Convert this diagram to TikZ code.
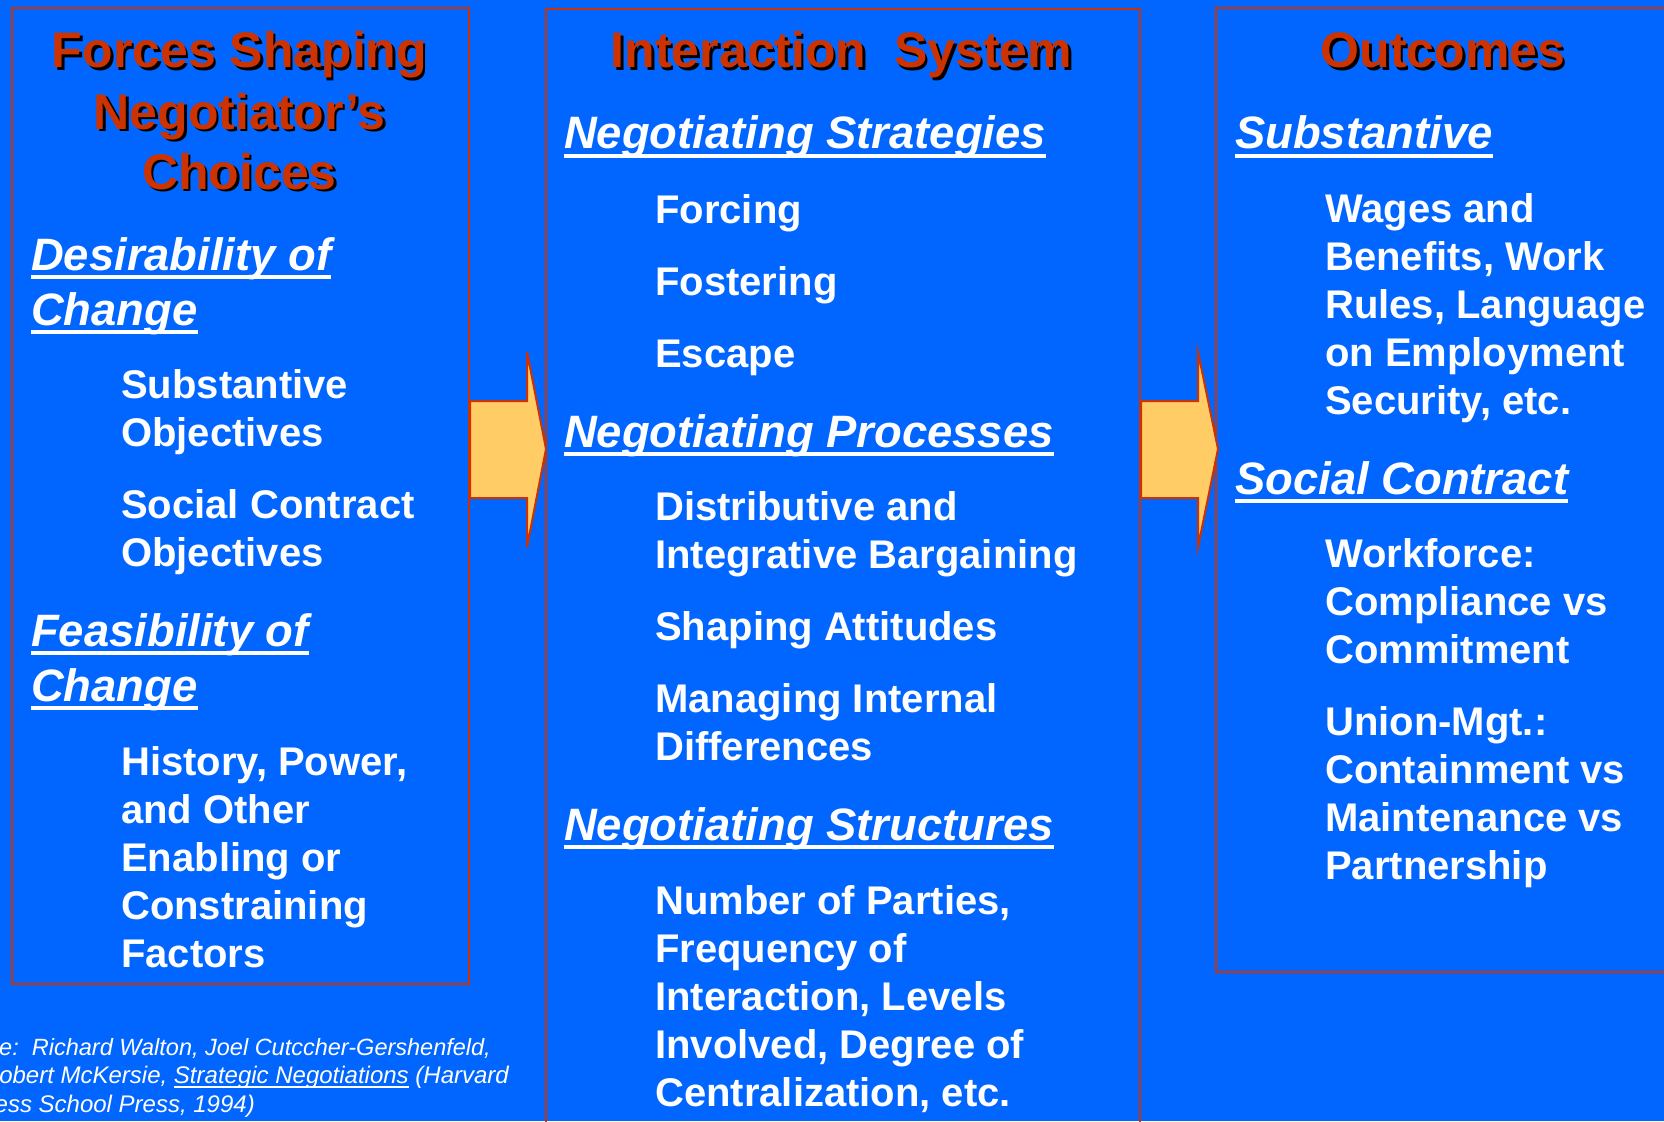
\documentclass[tikz,border=0pt]{standalone}
\usepackage{fontspec}
\setmainfont{Liberation Sans}
\usetikzlibrary{calc}

\definecolor{slideblue}{RGB}{0,102,255}
\definecolor{rust}{RGB}{204,51,0}
\definecolor{gold}{RGB}{255,204,102}

% underlined text: #1 = lowering of the rule, #2 = rule thickness
\newsavebox\ulinebox
\newcommand\ulinetext[3]{\sbox\ulinebox{#3}\rlap{\rule[-#1]{\wd\ulinebox}{#2}}\usebox\ulinebox}

\tikzset{
  panel/.style={draw=rust, line width=2pt},
  titletext/.style={font=\bfseries\fontsize{50}{60}\selectfont, text=rust, inner sep=0pt, anchor=base},
  titleshadow/.style={titletext, text=black},
  headtext/.style={font=\bfseries\itshape\fontsize{45.4}{54}\selectfont, text=white, inner sep=0pt, anchor=base west},
  bodytext/.style={font=\bfseries\fontsize{40}{48}\selectfont, text=white, inner sep=0pt, anchor=base west},
  citetext/.style={font=\itshape\fontsize{24}{29}\selectfont, text=white, inner sep=0pt, anchor=base east},
  blockarrow/.style={draw=rust, fill=gold, line width=2pt, line join=miter},
}

% title line with a dark drop shadow
\newcommand\titleline[4]{%
  \node[titleshadow] (#1-shadow) at (#2+2.5,#3+2.5) {#4};
  \node[titletext] (#1) at (#2,#3) {#4};}
% underlined italic heading
\newcommand\headline[4]{\node[headtext] (#1) at (#2,#3) {\ulinetext{8.7pt}{4pt}{#4}};}
% plain body line
\newcommand\bodyline[4]{\node[bodytext] (#1) at (#2,#3) {#4};}

\begin{document}
\begin{tikzpicture}[x=1pt, y=-1pt]
  \useasboundingbox (0,0) rectangle (1664,1121);
  \clip (0,0) rectangle (1664,1121);
  \fill[slideblue] (0,0) rectangle (1664,1121);

  % the three panels
  \node[panel, anchor=north west, minimum width=457.3pt, minimum height=976pt, inner sep=0pt] (forces) at (10.7,7) {};
  \node[panel, anchor=north west, minimum width=594.4pt, minimum height=1130pt, inner sep=0pt] (system) at (544.6,8) {};
  \node[panel, anchor=north west, minimum width=470pt, minimum height=964pt, inner sep=0pt] (outcomes) at (1215,7) {};

  % block arrows between the panels
  \coordinate (tailA) at (forces.north east |- 0,449);
  \coordinate (tailB) at (system.north east |- 0,449);
  \draw[blockarrow] (tailA) ++(0,-48) -- ++(57,0) -- ++(0,-49) -- ++(19,97)
        -- ++(-19,98) -- ++(0,-49) -- ++(-57,0) -- cycle;
  \draw[blockarrow] (tailB) ++(0,-48) -- ++(57,0) -- ++(0,-49) -- ++(20,97)
        -- ++(-20,98) -- ++(0,-49) -- ++(-57,0) -- cycle;

  % left panel
  \titleline{forcesA}{239.5}{68}{Forces Shaping}
  \titleline{forcesB}{239.5}{129}{Negotiator’s}
  \titleline{forcesC}{239.5}{189}{Choices}
  \headline{desireA}{31}{270}{Desirability of}
  \headline{desireB}{31}{325}{Change}
  \bodyline{substA}{121}{398}{Substantive}
  \bodyline{substB}{121}{446}{Objectives}
  \bodyline{socialA}{121}{518}{Social Contract}
  \bodyline{socialB}{121}{566}{Objectives}
  \headline{feasA}{31}{646}{Feasibility of}
  \headline{feasB}{31}{701}{Change}
  \bodyline{histA}{121}{775}{History, Power,}
  \bodyline{histB}{121}{823}{and Other}
  \bodyline{histC}{121}{871}{Enabling or}
  \bodyline{histD}{121}{919}{Constraining}
  \bodyline{histE}{121}{967}{Factors}

  % middle panel
  \titleline{systitle}{841.5}{68}{Interaction\ \ System}
  \headline{strat}{564}{149}{Negotiating Strategies}
  \bodyline{forcing}{655}{223}{Forcing}
  \bodyline{fostering}{655}{295}{Fostering}
  \bodyline{escape}{655}{367}{Escape}
  \headline{proc}{564}{447}{Negotiating Processes}
  \bodyline{distA}{655}{520}{Distributive and}
  \bodyline{distB}{655}{568}{Integrative Bargaining}
  \bodyline{shaping}{655}{640}{Shaping Attitudes}
  \bodyline{managA}{655}{712}{Managing Internal}
  \bodyline{managB}{655}{760}{Differences}
  \headline{struct}{564}{840}{Negotiating Structures}
  \bodyline{numA}{655}{914}{Number of Parties,}
  \bodyline{numB}{655}{962}{Frequency of}
  \bodyline{numC}{655}{1010}{Interaction, Levels}
  \bodyline{numD}{655}{1058}{Involved, Degree of}
  \bodyline{numE}{655}{1106}{Centralization, etc.}

  % right panel
  \titleline{outtitle}{1443}{68}{Outcomes}
  \headline{outsubst}{1235}{149}{Substantive}
  \bodyline{wagesA}{1325}{222}{Wages and}
  \bodyline{wagesB}{1325}{270}{Benefits, Work}
  \bodyline{wagesC}{1325}{318}{Rules, Language}
  \bodyline{wagesD}{1325}{366}{on Employment}
  \bodyline{wagesE}{1325}{414}{Security, etc.}
  \headline{outsocial}{1235}{494}{Social Contract}
  \bodyline{workA}{1325}{567}{Workforce:}
  \bodyline{workB}{1325}{615}{Compliance vs}
  \bodyline{workC}{1325}{663}{Commitment}
  \bodyline{unionA}{1325}{735}{Union-Mgt.:}
  \bodyline{unionB}{1325}{783}{Containment vs}
  \bodyline{unionC}{1325}{831}{Maintenance vs}
  \bodyline{unionD}{1325}{879}{Partnership}

  % reference note
  \node[citetext, font=\itshape\fontsize{23.5}{29}\selectfont] (citeA) at (491,1055) {e:\ \ Richard Walton, Joel Cutccher-Gershenfeld,};
  \node[citetext] (citeB) at (509,1083.5) {obert McKersie, \ulinetext{4.2pt}{1.5pt}{Strategic Negotiations} (Harvard};
  \node[citetext] (citeC) at (255,1112) {ess School Press, 1994)};
\end{tikzpicture}
\end{document}
